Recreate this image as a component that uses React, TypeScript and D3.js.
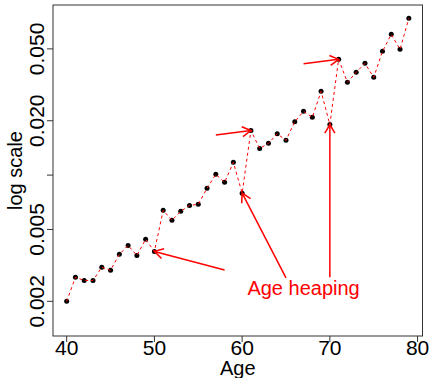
import React from "react";
import * as d3 from "d3";

const ages = d3.range(40, 80);
const rates = [
  0.002, 0.00272, 0.00261, 0.00261, 0.00309, 0.00297, 0.00364, 0.00408, 0.00359, 0.00441,
  0.00378, 0.00638, 0.00562, 0.0063, 0.00679, 0.00689, 0.00845, 0.01011, 0.00912, 0.01177,
  0.00794, 0.01765, 0.01404, 0.01499, 0.01694, 0.01558, 0.01975, 0.02254, 0.02088, 0.02909,
  0.01905, 0.04375, 0.03263, 0.03707, 0.04157, 0.03477, 0.04845, 0.06017, 0.04969, 0.07379,
];
const xTicks = [40, 50, 60, 70, 80];
const yTicks = [0.002, 0.005, 0.01, 0.02, 0.05];
const yTickLabels = ["0.002", "0.005", "", "0.020", "0.050"];
const arrowTails: [number, number][] = [
  [58, 0.00298],
  [65, 0.0027],
  [70, 0.00272],
  [57, 0.01667],
  [67, 0.04136],
];
const arrowHeads: [number, number][] = [
  [50, 0.00378],
  [60, 0.00794],
  [70, 0.01905],
  [61, 0.01765],
  [71, 0.04375],
];
const noteText = "Age heaping";
const notePos: [number, number] = [67, 0.00218];

export default function App() {
  const W = 430, H = 378;
  const left = 53, right = 422.5, top = 5, bottom = 336;
  const x = d3.scaleLinear().domain([38.44, 80.56]).range([left, right]);
  const y = d3.scaleLog().domain([Math.pow(10, -2.891), Math.pow(10, -1.058)]).range([bottom, top]);
  const line = d3.line<number>().x((_, i) => x(ages[i])).y((d) => y(d));
  const font = "'Liberation Sans', Arial, Helvetica, sans-serif";
  const red = "#ff0000";

  const arrows = arrowTails.map((t, i) => {
    const h = arrowHeads[i];
    const x0 = x(t[0]), y0 = y(t[1]), x1 = x(h[0]), y1 = y(h[1]);
    const ang = Math.atan2(y1 - y0, x1 - x0);
    const L = 10, a = Math.PI / 6;
    const p1 = [x1 - L * Math.cos(ang - a), y1 - L * Math.sin(ang - a)];
    const p2 = [x1 - L * Math.cos(ang + a), y1 - L * Math.sin(ang + a)];
    return (
      <g key={i} stroke={red} strokeWidth={1.5} fill="none">
        <line x1={x0} y1={y0} x2={x1} y2={y1} />
        <polyline points={`${p1[0]},${p1[1]} ${x1},${y1} ${p2[0]},${p2[1]}`} />
      </g>
    );
  });

  return (
    <svg width={W} height={H} style={{ position: "absolute", left: 0, top: 0, background: "#fff" }} fontFamily={font}>
      <rect x={0} y={0} width={W} height={H} fill="#fff" />
      {rates.map((r, i) => (
        <circle key={i} cx={x(ages[i])} cy={y(r)} r={2.5} fill="#000" />
      ))}
      <path d={line(rates) || ""} fill="none" stroke={red} strokeWidth={1} strokeDasharray="3,3" />
      {arrows}
      <text x={x(notePos[0])} y={y(notePos[1])} textAnchor="middle" fontSize={20} fill={red}>
        {noteText}
      </text>
      <rect x={left} y={top} width={right - left} height={bottom - top} fill="none" stroke="#333" strokeWidth={1} />
      {xTicks.map((t) => (
        <g key={t}>
          <line x1={x(t)} x2={x(t)} y1={bottom} y2={bottom + 6} stroke="#333" />
          <text x={x(t)} y={355} textAnchor="middle" fontSize={21} fill="#000">{t}</text>
        </g>
      ))}
      <text x={(left + right) / 2} y={375} textAnchor="middle" fontSize={20} fill="#000">Age</text>
      {yTicks.map((t, i) => (
        <g key={t}>
          <line x1={left - 6} x2={left} y1={y(t)} y2={y(t)} stroke="#333" />
          {yTickLabels[i] && (
            <text transform={`translate(43.5,${y(t)}) rotate(-90)`} textAnchor="middle" fontSize={21} fill="#000">
              {yTickLabels[i]}
            </text>
          )}
        </g>
      ))}
      <text transform={`translate(22,${(top + bottom) / 2}) rotate(-90)`} textAnchor="middle" fontSize={20} fill="#000">
        log scale
      </text>
    </svg>
  );
}
